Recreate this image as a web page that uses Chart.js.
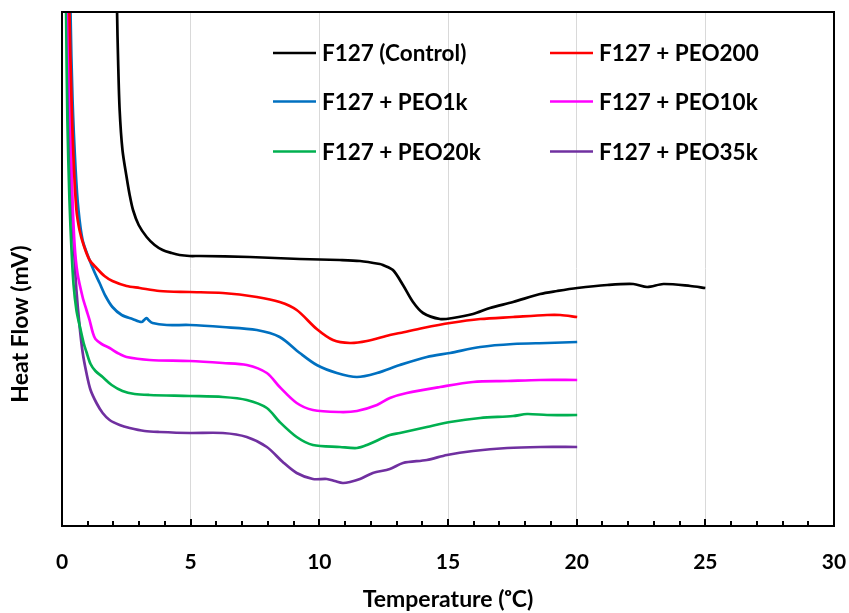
<!DOCTYPE html>
<html><head><meta charset="utf-8">
<script src="https://cdn.jsdelivr.net/npm/chart.js@4/dist/chart.umd.min.js"></script>
<style>html,body{margin:0;padding:0;background:#fff;}#wrap{width:849px;height:613px;}</style>
</head><body><div id="wrap"><canvas id="c" width="849" height="613"></canvas></div>
<script>
// ---- data (temperature in °C, heat flow in arbitrary mV units) ----
const seriesLabels = ['F127 (Control)', 'F127 + PEO200', 'F127 + PEO1k', 'F127 + PEO10k', 'F127 + PEO20k', 'F127 + PEO35k'];
const seriesColors = ['#000000', '#FF0000', '#0070C0', '#FF00FF', '#00B050', '#7030A0'];
const xTickValues = [0, 5, 10, 15, 20, 25, 30];

const tempControl = [2.12, 2.14, 2.18, 2.24, 2.35, 2.51, 2.63, 2.76, 2.98, 3.29, 3.60, 3.91, 4.26, 4.57, 4.96, 5.35, 7.30, 9.24, 10.80, 11.58, 12.35, 12.47, 12.86, 13.25, 13.64, 14.03, 14.69, 15.19, 15.97, 16.63, 17.53, 18.58, 19.24, 20.02, 21.19, 22.20, 22.74, 23.37, 24.42, 25.00];
const flowControl = [5.90, 5.14, 4.66, 4.16, 3.76, 3.49, 3.31, 3.16, 3.01, 2.89, 2.81, 2.76, 2.73, 2.71, 2.70, 2.70, 2.69, 2.67, 2.66, 2.65, 2.62, 2.61, 2.56, 2.41, 2.24, 2.13, 2.07, 2.08, 2.12, 2.18, 2.24, 2.32, 2.35, 2.38, 2.41, 2.42, 2.39, 2.42, 2.40, 2.38];

const tempPEO200 = [0.27, 0.29, 0.37, 0.45, 0.56, 0.68, 0.84, 1.07, 1.34, 1.65, 1.96, 2.51, 3.02, 3.79, 4.96, 6.25, 7.57, 8.46, 9.12, 9.90, 10.53, 11.19, 11.85, 12.74, 13.13, 14.03, 15.08, 16.25, 17.53, 18.85, 19.36, 20.02];
const flowPEO200 = [5.90, 5.14, 4.26, 3.66, 3.16, 2.96, 2.81, 2.66, 2.58, 2.50, 2.45, 2.40, 2.38, 2.35, 2.34, 2.33, 2.29, 2.24, 2.16, 1.97, 1.86, 1.83, 1.85, 1.91, 1.93, 1.98, 2.03, 2.07, 2.09, 2.11, 2.11, 2.09];

const tempPEO1k = [0.31, 0.33, 0.41, 0.53, 0.64, 0.80, 1.07, 1.26, 1.46, 1.69, 1.96, 2.32, 2.74, 3.09, 3.21, 3.29, 3.36, 3.52, 4.07, 4.96, 6.25, 7.57, 8.46, 9.24, 9.90, 10.68, 11.46, 12.24, 13.13, 14.18, 15.08, 16.25, 17.53, 18.85, 20.02];
const flowPEO1k = [5.90, 5.14, 4.26, 3.56, 3.16, 2.86, 2.66, 2.54, 2.43, 2.30, 2.19, 2.11, 2.07, 2.04, 2.065, 2.08, 2.06, 2.03, 2.01, 2.01, 1.99, 1.96, 1.89, 1.73, 1.61, 1.53, 1.49, 1.53, 1.61, 1.69, 1.73, 1.79, 1.82, 1.83, 1.84];

const tempPEO10k = [0.23, 0.25, 0.33, 0.41, 0.49, 0.60, 0.80, 0.95, 1.07, 1.19, 1.30, 1.54, 1.85, 2.16, 2.51, 3.40, 4.96, 6.25, 7.18, 7.96, 8.46, 9.12, 9.75, 10.80, 11.46, 12.24, 12.74, 13.40, 14.69, 15.97, 17.30, 18.58, 20.02];
const flowPEO10k = [5.90, 5.14, 4.06, 3.26, 2.81, 2.53, 2.29, 2.16, 2.06, 1.94, 1.87, 1.82, 1.78, 1.73, 1.69, 1.66, 1.65, 1.63, 1.61, 1.53, 1.39, 1.23, 1.16, 1.14, 1.15, 1.21, 1.28, 1.33, 1.39, 1.44, 1.45, 1.46, 1.46];

const tempPEO20k = [0.14, 0.16, 0.21, 0.29, 0.37, 0.45, 0.56, 0.68, 0.84, 0.95, 1.11, 1.30, 1.58, 1.93, 2.35, 2.82, 3.40, 4.96, 6.25, 7.18, 7.96, 8.46, 9.12, 9.75, 10.80, 11.46, 11.85, 12.74, 13.13, 14.18, 15.08, 16.25, 17.53, 18.07, 18.85, 20.02];
const flowPEO20k = [5.90, 5.14, 4.06, 3.26, 2.76, 2.41, 2.16, 2.01, 1.83, 1.74, 1.62, 1.55, 1.49, 1.41, 1.35, 1.32, 1.31, 1.30, 1.29, 1.26, 1.18, 1.04, 0.89, 0.81, 0.79, 0.78, 0.81, 0.91, 0.93, 0.99, 1.04, 1.08, 1.10, 1.12, 1.11, 1.11];

const tempPEO35k = [0.19, 0.21, 0.29, 0.37, 0.49, 0.56, 0.68, 0.80, 0.95, 1.11, 1.34, 1.58, 1.85, 2.24, 2.63, 3.21, 3.79, 4.96, 6.25, 7.18, 7.96, 8.58, 9.12, 9.75, 10.29, 10.60, 10.91, 11.19, 11.58, 12.08, 12.74, 13.25, 14.18, 14.96, 15.97, 17.30, 18.58, 20.02];
const flowPEO35k = [5.90, 5.14, 4.06, 3.26, 2.66, 2.36, 2.01, 1.74, 1.53, 1.36, 1.23, 1.13, 1.06, 1.01, 0.98, 0.95, 0.94, 0.93, 0.93, 0.89, 0.79, 0.64, 0.53, 0.47, 0.47, 0.45, 0.43, 0.44, 0.47, 0.53, 0.57, 0.63, 0.66, 0.71, 0.75, 0.78, 0.79, 0.79];

const seriesTemps = [tempControl, tempPEO200, tempPEO1k, tempPEO10k, tempPEO20k, tempPEO35k];
const seriesFlows = [flowControl, flowPEO200, flowPEO1k, flowPEO10k, flowPEO20k, flowPEO35k];

const FONT = 'Lato, "Liberation Sans", sans-serif';

const datasets = seriesLabels.map((label, i) => ({
  label,
  data: seriesTemps[i].map((t, k) => ({ x: t, y: seriesFlows[i][k] })),
  borderColor: seriesColors[i],
  backgroundColor: seriesColors[i],
  borderWidth: 2.7,
  showLine: true,
  pointRadius: 0,
  tension: 0.3
}));

const framePlugin = {
  id: 'frame',
  afterDraw(chart) {
    const { ctx, chartArea: a, scales: { x } } = chart;
    ctx.save();
    ctx.strokeStyle = '#000';
    ctx.lineWidth = 2;
    ctx.strokeRect(a.left, a.top, a.right - a.left, a.bottom - a.top);
    for (let v = x.min; v <= x.max; v += 1) {
      const px = Math.round(x.getPixelForValue(v));
      const len = (v % 5 === 0) ? 7 : 5;
      ctx.beginPath();
      ctx.moveTo(px, a.bottom);
      ctx.lineTo(px, a.bottom - len);
      ctx.stroke();
    }
    ctx.fillStyle = '#000';
    ctx.font = 'bold 23px ' + FONT;
    ctx.textAlign = 'center';
    ctx.textBaseline = 'middle';
    ctx.translate(21, 324);
    ctx.rotate(-Math.PI / 2);
    ctx.fillText('Heat Flow (mV)', 0, 0);
    ctx.restore();
  }
};

const legendPlugin = {
  id: 'customLegend',
  afterDraw(chart) {
    const { ctx } = chart;
    const cols = [273, 550];
    const rows = [53, 101.5, 151.5];
    ctx.save();
    ctx.font = 'bold 22.5px ' + FONT;
    ctx.textBaseline = 'middle';
    ctx.textAlign = 'left';
    chart.data.datasets.forEach((ds, i) => {
      const cx = cols[i % 2];
      const cy = rows[Math.floor(i / 2)];
      ctx.strokeStyle = ds.borderColor;
      ctx.lineWidth = 2.5;
      ctx.beginPath();
      ctx.moveTo(cx, cy);
      ctx.lineTo(cx + 43, cy);
      ctx.stroke();
      ctx.fillStyle = '#000';
      ctx.fillText(ds.label, cx + 49, cy + 1);
    });
    ctx.restore();
  }
};

new Chart(document.getElementById('c'), {
  type: 'scatter',
  data: { datasets },
  options: {
    responsive: false,
    animation: false,
    devicePixelRatio: 1,
    layout: { padding: { top: 12, right: 15, left: 0, bottom: 0 } },
    plugins: { legend: { display: false }, tooltip: { enabled: false } },
    scales: {
      x: {
        type: 'linear',
        min: 0, max: 30,
        afterBuildTicks: s => { s.ticks = xTickValues.map(v => ({ value: v })); },
        afterFit: s => { s.height = 87; s.paddingLeft = 0; s.paddingRight = 0; },
        grid: {
          drawTicks: false,
          color: c => (c.tick && (c.tick.value === 0 || c.tick.value === 30)) ? 'rgba(0,0,0,0)' : '#d9d9d9',
          lineWidth: 1
        },
        border: { display: true, color: '#000', width: 2 },
        ticks: { padding: 24, color: '#000', font: { family: FONT, size: 21, weight: 'bold' }, maxRotation: 0 },
        title: { display: true, text: 'Temperature (ᵒC)', color: '#000', padding: { top: 0, bottom: 0 }, font: { family: FONT, size: 23, weight: 'bold' } }
      },
      y: {
        type: 'linear',
        min: 0, max: 5.14,
        afterFit: s => { s.width = 62; },
        grid: { display: false, drawTicks: false },
        border: { display: true, color: '#000', width: 2 },
        ticks: { display: false },
        title: { display: false }
      }
    }
  },
  plugins: [framePlugin, legendPlugin]
});
</script></body></html>
